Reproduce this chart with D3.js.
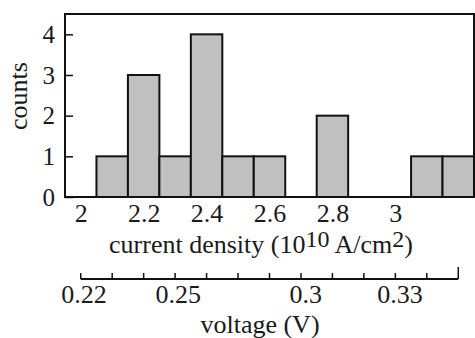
<!DOCTYPE html>
<html>
<head>
<meta charset="utf-8">
<script src="https://cdn.jsdelivr.net/npm/d3@7"></script>
<style>
  body { margin: 0; background: #fff; }
  svg { display: block; }
  svg text { font-family: "Liberation Serif", "DejaVu Serif", serif !important; fill: #1a1a1a; }
</style>
</head>
<body>
<svg id="chart" width="475" height="338"></svg>
<script>
// histogram bins (current density, 10^10 A/cm^2) and counts
const binStarts = [2.05, 2.15, 2.25, 2.35, 2.45, 2.55, 2.65, 2.75, 2.85, 2.95, 3.05, 3.15];
const counts    = [1, 3, 1, 4, 1, 1, 0, 2, 0, 0, 1, 1];
const binWidth = 0.1;

const xTicks = [2, 2.2, 2.4, 2.6, 2.8, 3];
const yTicks = [0, 1, 2, 3, 4];

// voltage axis: tick marks (at current density positions) and labelled values
const voltTickPos = [2.0, 2.1, 2.2, 2.3, 2.4, 2.5, 2.6, 2.7, 2.8, 2.9, 3.0, 3.1, 3.2];
const voltLabels = ['0.22', '0.25', '0.3', '0.33'];
const voltLabelPos = [2.01, 2.31, 2.715, 3.015];

const svg = d3.select('#chart');
const margin = { top: 14, right: 1, bottom: 141, left: 65 };
const width = 475 - margin.left - margin.right,
  height = 338 - margin.top - margin.bottom;

const x = d3.scaleLinear().domain([1.95, 3.25]).range([margin.left, margin.left + width]);
const y = d3.scaleLinear().domain([0, 4.5]).range([margin.top + height, margin.top]);

// bars
svg.append('g')
  .selectAll('rect')
  .data(binStarts.map((b, i) => ({ b, c: counts[i] })).filter(d => d.c > 0))
  .join('rect')
  .attr('x', d => x(d.b))
  .attr('y', d => y(d.c))
  .attr('width', d => x(d.b + binWidth) - x(d.b))
  .attr('height', d => y(0) - y(d.c))
  .attr('fill', '#c0c0c0')
  .attr('stroke', '#111')
  .attr('stroke-width', 2);

// y axis with inward ticks
const yAxis = svg.append('g')
  .attr('transform', `translate(${margin.left},0)`)
  .call(d3.axisLeft(y).tickValues(yTicks).tickSize(-8).tickPadding(10).tickFormat(d3.format('d')));
yAxis.select('.domain').remove();
yAxis.selectAll('line').attr('stroke', '#111').attr('stroke-width', 1.5);
yAxis.selectAll('text').style('font-size', '25px').attr('dy', '0.33em');

// x axis (labels only)
const xAxis = svg.append('g')
  .attr('transform', `translate(0,${margin.top + height})`)
  .call(d3.axisBottom(x).tickValues(xTicks).tickSize(0).tickPadding(7).tickFormat(d => String(d)));
xAxis.select('.domain').remove();
xAxis.selectAll('text').style('font-size', '26px').attr('dy', '0.71em');

// frame
svg.append('rect')
  .attr('x', margin.left).attr('y', margin.top)
  .attr('width', width).attr('height', height)
  .attr('fill', 'none').attr('stroke', '#111').attr('stroke-width', 2);

// axis titles
svg.append('text')
  .attr('transform', `translate(27,${96}) rotate(-90)`)
  .attr('text-anchor', 'middle')
  .style('font-size', '26px')
  .text('counts');

const cd = svg.append('text')
  .attr('x', 261).attr('y', 253)
  .attr('text-anchor', 'middle')
  .style('font-size', '26px');
cd.append('tspan').text('current density (10');
cd.append('tspan').attr('dy', -6).style('font-size', '24px').text('10');
cd.append('tspan').attr('dy', 6).text(' A/cm');
cd.append('tspan').attr('dy', -6).style('font-size', '24px').text('2');
cd.append('tspan').attr('dy', 6).text(')');

// voltage axis
const vy = 279;
const vg = svg.append('g');
vg.append('line')
  .attr('x1', x(voltTickPos[0])).attr('x2', x(voltTickPos[voltTickPos.length - 1]))
  .attr('y1', vy).attr('y2', vy)
  .attr('stroke', '#111').attr('stroke-width', 2);
vg.selectAll('.vtick')
  .data(voltTickPos)
  .join('line')
  .attr('class', 'vtick')
  .attr('x1', d => x(d)).attr('x2', d => x(d))
  .attr('y1', (d, i) => i === voltTickPos.length - 1 ? vy - 12 : vy - 6)
  .attr('y2', vy)
  .attr('stroke', '#111').attr('stroke-width', 1.5);
vg.selectAll('.vlabel')
  .data(voltLabels)
  .join('text')
  .attr('class', 'vlabel')
  .attr('x', (d, i) => x(voltLabelPos[i]))
  .attr('y', 303)
  .attr('text-anchor', 'middle')
  .style('font-size', '26px')
  .text(d => d);

svg.append('text')
  .attr('x', 260).attr('y', 333)
  .attr('text-anchor', 'middle')
  .style('font-size', '26px')
  .text('voltage (V)');
</script>
</body>
</html>
